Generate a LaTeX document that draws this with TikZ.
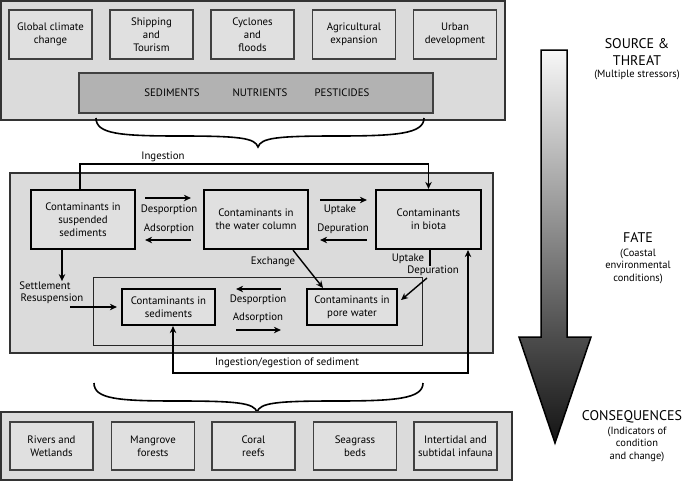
\documentclass[tikz,border=0pt]{standalone}
\usepackage{fontspec}
\setmainfont{PT Sans}
\usetikzlibrary{arrows.meta}
\pgfdeclareverticalshading{stageshade}{100bp}{color(0bp)=(black!92); color(25bp)=(black!92); color(38.5bp)=(black!70); color(75bp)=(black!3); color(100bp)=(black!3)}
\newcommand{\boxtxt}{\fontsize{10.8}{13}\selectfont}

\begin{document}
\begin{tikzpicture}[x=1pt, y=-1pt,
  panel/.style={draw=black!80, line width=1.8pt, fill=black!14},
  threat/.style={draw=black!75, line width=1.3pt, fill=black!12, minimum width=83pt, minimum height=49pt, align=center, font=\boxtxt, inner sep=1pt},
  habitat/.style={threat, minimum height=48pt},
  cont/.style={draw=black, line width=2.2pt, fill=black!12, align=center, font=\boxtxt, inner sep=1pt},
  flow/.style={-{Stealth[length=7pt,width=6.5pt]}, line width=1.4pt},
  lbl/.style={font=\boxtxt, inner sep=0pt},
  brace/.style={line width=1.6pt},
  stage/.style={font=\fontsize{14}{16}\selectfont, inner sep=0pt},
  note/.style={font=\fontsize{10.5}{12.5}\selectfont, align=center, inner sep=0pt}]

\useasboundingbox (0,0) rectangle (685,482);

% source and threat
\draw[panel] (1,1) rectangle (505,120);
	\node[threat] (glob) at (50.5,34.5) {Global climate\\change};
	\node[threat] (ship) at (151.5,34.5) {Shipping\\and\\Tourism};
	\node[threat] (cycl) at (252.5,34.5) {Cyclones\\and\\floods};
	\node[threat] (agri) at (354,34.5) {Agricultural\\expansion};
	\node[threat] (urban) at (455,34.5) {Urban\\development};

	\node[draw=black!75, line width=1.3pt, fill=black!30, minimum width=354pt, minimum height=40pt] (load) at (256,93) {};
	\node[lbl] (sed) at (172,93) {SEDIMENTS};
	\node[lbl] (nut) at (260,93) {NUTRIENTS};
	\node[lbl] (pest) at (342,93) {PESTICIDES};

\draw[brace] (96,118) .. controls (96,134) and (120,136) .. (180,136) .. controls (240,136) and (255,138) .. (258,147)
	.. controls (261,138) and (276,136) .. (336,136) .. controls (396,136) and (424,134) .. (424,118);

% fate
\draw[panel] (10,173) rectangle (493,353);
\draw[line width=1pt, draw=black!85] (93,277) rectangle (422,345);

	\node[cont, minimum width=104pt, minimum height=59pt] (susp) at (83,219.5) {Contaminants in\\suspended\\sediments};
	\node[cont, minimum width=104pt, minimum height=59pt] (water) at (256,219.5) {Contaminants in\\the water column};
	\node[cont, minimum width=105pt, minimum height=59pt] (biota) at (428.5,219.5) {Contaminants\\in biota};
	\node[cont, minimum width=93pt, minimum height=36pt] (sedi) at (168.5,307) {Contaminants in\\sediments};
	\node[cont, minimum width=90pt, minimum height=36pt] (pore) at (352,307) {Contaminants in\\pore water};

	\draw[flow] ([xshift=-3pt]susp.north) -- ++(0,-25) -| (biota.north);
	\node[lbl] (ingest) at (163,157) {Ingestion};

	\draw[flow] ([xshift=9pt,yshift=21.5pt]susp.east) -- ([xshift=-12pt,yshift=21.5pt]water.west);
	\draw[flow] ([xshift=-12pt,yshift=-20.5pt]water.west) -- ([xshift=9pt,yshift=-20.5pt]susp.east);
	\node[lbl] (desp) at (169,210) {Desporption};
	\node[lbl] (adso) at (169,229) {Adsorption};

	\draw[flow] ([xshift=11pt,yshift=19.5pt]water.east) -- ([xshift=-8pt,yshift=19.5pt]biota.west);
	\draw[flow] ([xshift=-8pt,yshift=-20.5pt]biota.west) -- ([xshift=11pt,yshift=-20.5pt]water.east);
	\node[lbl] (upt) at (340,210) {Uptake};
	\node[lbl] (depu) at (343,229) {Depuration};

	\draw[flow] ([xshift=37pt]water.south) -- ([xshift=-29pt]pore.north);
	\node[lbl] (exch) at (273,262) {Exchange};

	\draw[line width=1.4pt] ([xshift=1.5pt]biota.south) -- ++(0,16);
	\node[lbl] (upt2) at (408,259) {Uptake};
	\node[lbl] (depu2) at (433,271) {Depuration};
	\coordinate (depfoot) at (427,278);
	\draw[flow] (depfoot) -- ([xshift=3pt,yshift=7pt]pore.east);

	\draw[flow] ([xshift=-21pt]susp.south) -- ++(0,31);
	\node[lbl] (settl) at (45,286) {Settlement};
	\node[lbl] (resus) at (52,299) {Resuspension};
	\coordinate (resfoot) at (70,307);
	\draw[flow] (resfoot) -- ([xshift=-4pt]sedi.west);

	\draw[flow] ([xshift=-25pt,yshift=18pt]pore.west) -- ([xshift=20pt,yshift=18pt]sedi.east);
	\draw[flow] ([xshift=20pt,yshift=-23pt]sedi.east) -- ([xshift=-25pt,yshift=-23pt]pore.west);
	\node[lbl] (desp2) at (258,300) {Desporption};
	\node[lbl] (adso2) at (258,318) {Adsorption};

	\draw[line width=1.4pt, {Stealth[length=7pt,width=6.5pt]}-{Stealth[length=7pt,width=6.5pt]}] ([xshift=4.5pt]sedi.south) -- ++(0,47) -| ([xshift=39.5pt]biota.south);
	\node[lbl] (egest) at (287,363) {Ingestion/egestion of sediment};

\draw[brace] (94,383) .. controls (94,399) and (118,401) .. (178,401) .. controls (238,401) and (254,403) .. (257,412)
	.. controls (260,403) and (275,401) .. (335,401) .. controls (395,401) and (423,399) .. (423,383);

% consequences
\draw[panel] (1,412) rectangle (512,480);
	\node[habitat] (river) at (51.5,446) {Rivers and\\Wetlands};
	\node[habitat] (mang) at (153,446) {Mangrove\\forests};
	\node[habitat] (coral) at (253.5,446) {Coral\\reefs};
	\node[habitat] (seag) at (355,446) {Seagrass\\beds};
	\node[habitat] (inter) at (455.5,446) {Intertidal and\\subtidal infauna};

% stage arrow
\draw[draw=black, line width=1.5pt, shading=stageshade]
	(541,50) -- (567,50) -- (567,337) -- (591,337) -- (555,443) -- (519,337) -- (541,337) -- cycle;

	\node[stage] (src) at (637,44) {SOURCE \&};
	\node[stage] (thr) at (637,61) {THREAT};
	\node[note] (mult) at (637,75) {(Multiple stressors)};
	\node[stage] (fate) at (638,238) {FATE};
	\node[note] (coast) at (638,266) {(Coastal\\environmental\\conditions)};
	\node[stage] (cons) at (632,417) {CONSEQUENCES};
	\node[note] (indic) at (637,444) {(Indicators of\\condition\\and change)};
\end{tikzpicture}
\end{document}
